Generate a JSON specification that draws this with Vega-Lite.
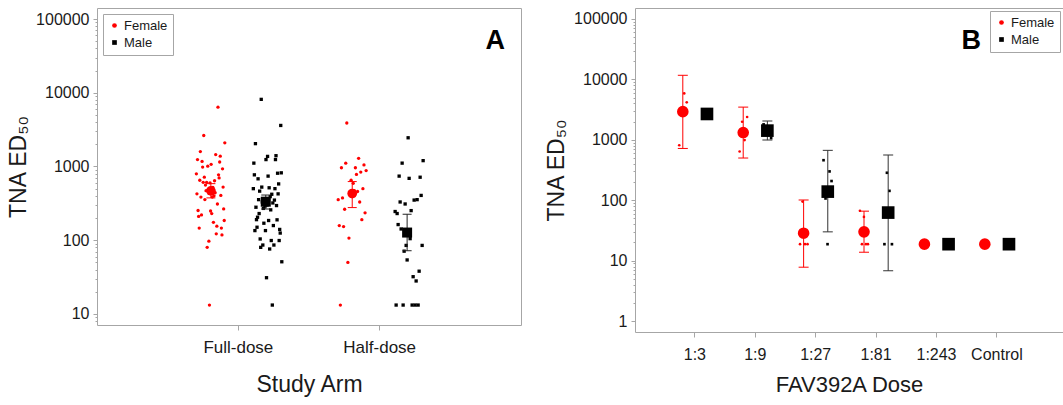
{
"$schema": "https://vega.github.io/schema/vega-lite/v6.json",
"padding": {"left": 7, "top": 7, "right": 0, "bottom": 0},
"spacing": 23,
"datasets": {
"a_raw": [
{"arm":"Full-dose","sex":"Female","id":1,"value":795},{"arm":"Full-dose","sex":"Female","id":2,"value":425},{"arm":"Full-dose","sex":"Female","id":3,"value":1240},{"arm":"Full-dose","sex":"Female","id":4,"value":253},{"arm":"Full-dose","sex":"Female","id":5,"value":210},
{"arm":"Full-dose","sex":"Female","id":6,"value":146},{"arm":"Full-dose","sex":"Female","id":7,"value":650},{"arm":"Full-dose","sex":"Female","id":8,"value":1590},{"arm":"Full-dose","sex":"Female","id":9,"value":385},{"arm":"Full-dose","sex":"Female","id":10,"value":220},
{"arm":"Full-dose","sex":"Female","id":11,"value":1170},{"arm":"Full-dose","sex":"Female","id":12,"value":980},{"arm":"Full-dose","sex":"Female","id":13,"value":610},{"arm":"Full-dose","sex":"Female","id":14,"value":2630},{"arm":"Full-dose","sex":"Female","id":15,"value":716},
{"arm":"Full-dose","sex":"Female","id":16,"value":356},{"arm":"Full-dose","sex":"Female","id":17,"value":560},{"arm":"Full-dose","sex":"Female","id":18,"value":470},{"arm":"Full-dose","sex":"Female","id":19,"value":610},{"arm":"Full-dose","sex":"Female","id":20,"value":80},
{"arm":"Full-dose","sex":"Female","id":21,"value":1010},{"arm":"Full-dose","sex":"Female","id":22,"value":480},{"arm":"Full-dose","sex":"Female","id":23,"value":97},{"arm":"Full-dose","sex":"Female","id":24,"value":13.2},{"arm":"Full-dose","sex":"Female","id":25,"value":600},
{"arm":"Full-dose","sex":"Female","id":26,"value":249},{"arm":"Full-dose","sex":"Female","id":27,"value":1070},{"arm":"Full-dose","sex":"Female","id":28,"value":230},{"arm":"Full-dose","sex":"Female","id":29,"value":385},{"arm":"Full-dose","sex":"Female","id":30,"value":520},
{"arm":"Full-dose","sex":"Female","id":31,"value":175},{"arm":"Full-dose","sex":"Female","id":32,"value":400},{"arm":"Full-dose","sex":"Female","id":33,"value":640},{"arm":"Full-dose","sex":"Female","id":34,"value":440},{"arm":"Full-dose","sex":"Female","id":35,"value":1450},
{"arm":"Full-dose","sex":"Female","id":36,"value":122},{"arm":"Full-dose","sex":"Female","id":37,"value":155},{"arm":"Full-dose","sex":"Female","id":38,"value":310},{"arm":"Full-dose","sex":"Female","id":39,"value":6380},{"arm":"Full-dose","sex":"Female","id":40,"value":770},
{"arm":"Full-dose","sex":"Female","id":41,"value":700},{"arm":"Full-dose","sex":"Female","id":42,"value":1150},{"arm":"Full-dose","sex":"Female","id":43,"value":1380},{"arm":"Full-dose","sex":"Female","id":44,"value":405},{"arm":"Full-dose","sex":"Female","id":45,"value":146},
{"arm":"Full-dose","sex":"Female","id":46,"value":118},{"arm":"Full-dose","sex":"Female","id":47,"value":930},{"arm":"Full-dose","sex":"Female","id":48,"value":525},{"arm":"Full-dose","sex":"Female","id":49,"value":266},{"arm":"Full-dose","sex":"Female","id":50,"value":185},
{"arm":"Full-dose","sex":"Female","id":51,"value":2090},
{"arm":"Full-dose","sex":"Male","id":1,"value":500},{"arm":"Full-dose","sex":"Male","id":2,"value":1110},{"arm":"Full-dose","sex":"Male","id":3,"value":770},{"arm":"Full-dose","sex":"Male","id":4,"value":135},{"arm":"Full-dose","sex":"Male","id":5,"value":2040},
{"arm":"Full-dose","sex":"Male","id":6,"value":280},{"arm":"Full-dose","sex":"Male","id":7,"value":190},{"arm":"Full-dose","sex":"Male","id":8,"value":150},{"arm":"Full-dose","sex":"Male","id":9,"value":205},{"arm":"Full-dose","sex":"Male","id":10,"value":680},
{"arm":"Full-dose","sex":"Male","id":11,"value":355},{"arm":"Full-dose","sex":"Male","id":12,"value":230},{"arm":"Full-dose","sex":"Male","id":13,"value":463},{"arm":"Full-dose","sex":"Male","id":14,"value":104},{"arm":"Full-dose","sex":"Male","id":15,"value":80},
{"arm":"Full-dose","sex":"Male","id":16,"value":8130},{"arm":"Full-dose","sex":"Male","id":17,"value":525},{"arm":"Full-dose","sex":"Male","id":18,"value":330},{"arm":"Full-dose","sex":"Male","id":19,"value":86},{"arm":"Full-dose","sex":"Male","id":20,"value":270},
{"arm":"Full-dose","sex":"Male","id":21,"value":170},{"arm":"Full-dose","sex":"Male","id":22,"value":360},{"arm":"Full-dose","sex":"Male","id":23,"value":290},{"arm":"Full-dose","sex":"Male","id":24,"value":135},{"arm":"Full-dose","sex":"Male","id":25,"value":1240},
{"arm":"Full-dose","sex":"Male","id":26,"value":31},{"arm":"Full-dose","sex":"Male","id":27,"value":300},{"arm":"Full-dose","sex":"Male","id":28,"value":1370},{"arm":"Full-dose","sex":"Male","id":29,"value":740},{"arm":"Full-dose","sex":"Male","id":30,"value":185},
{"arm":"Full-dose","sex":"Male","id":31,"value":514},{"arm":"Full-dose","sex":"Male","id":32,"value":76},{"arm":"Full-dose","sex":"Male","id":33,"value":390},{"arm":"Full-dose","sex":"Male","id":34,"value":258},{"arm":"Full-dose","sex":"Male","id":35,"value":99},
{"arm":"Full-dose","sex":"Male","id":36,"value":420},{"arm":"Full-dose","sex":"Male","id":37,"value":13.2},{"arm":"Full-dose","sex":"Male","id":38,"value":320},{"arm":"Full-dose","sex":"Male","id":39,"value":158},{"arm":"Full-dose","sex":"Male","id":40,"value":86},
{"arm":"Full-dose","sex":"Male","id":41,"value":350},{"arm":"Full-dose","sex":"Male","id":42,"value":500},{"arm":"Full-dose","sex":"Male","id":43,"value":1240},{"arm":"Full-dose","sex":"Male","id":44,"value":1400},{"arm":"Full-dose","sex":"Male","id":45,"value":295},
{"arm":"Full-dose","sex":"Male","id":46,"value":189},{"arm":"Full-dose","sex":"Male","id":47,"value":810},{"arm":"Full-dose","sex":"Male","id":48,"value":425},{"arm":"Full-dose","sex":"Male","id":49,"value":580},{"arm":"Full-dose","sex":"Male","id":50,"value":99},
{"arm":"Full-dose","sex":"Male","id":51,"value":140},{"arm":"Full-dose","sex":"Male","id":52,"value":125},{"arm":"Full-dose","sex":"Male","id":53,"value":3600},{"arm":"Full-dose","sex":"Male","id":54,"value":820},{"arm":"Full-dose","sex":"Male","id":55,"value":51},
{"arm":"Half-dose","sex":"Female","id":1,"value":355},{"arm":"Half-dose","sex":"Female","id":2,"value":158},{"arm":"Half-dose","sex":"Female","id":3,"value":13.2},{"arm":"Half-dose","sex":"Female","id":4,"value":960},{"arm":"Half-dose","sex":"Female","id":5,"value":375},
{"arm":"Half-dose","sex":"Female","id":6,"value":153},{"arm":"Half-dose","sex":"Female","id":7,"value":263},{"arm":"Half-dose","sex":"Female","id":8,"value":1110},{"arm":"Half-dose","sex":"Female","id":9,"value":3890},{"arm":"Half-dose","sex":"Female","id":10,"value":50},
{"arm":"Half-dose","sex":"Female","id":11,"value":107},{"arm":"Half-dose","sex":"Female","id":12,"value":420},{"arm":"Half-dose","sex":"Female","id":13,"value":650},{"arm":"Half-dose","sex":"Female","id":14,"value":390},{"arm":"Half-dose","sex":"Female","id":15,"value":590},
{"arm":"Half-dose","sex":"Female","id":16,"value":470},{"arm":"Half-dose","sex":"Female","id":17,"value":960},{"arm":"Half-dose","sex":"Female","id":18,"value":780},{"arm":"Half-dose","sex":"Female","id":19,"value":458},{"arm":"Half-dose","sex":"Female","id":20,"value":1290},
{"arm":"Half-dose","sex":"Female","id":21,"value":330},{"arm":"Half-dose","sex":"Female","id":22,"value":840},{"arm":"Half-dose","sex":"Female","id":23,"value":190},{"arm":"Half-dose","sex":"Female","id":24,"value":500},{"arm":"Half-dose","sex":"Female","id":25,"value":1050},
{"arm":"Half-dose","sex":"Female","id":26,"value":235},{"arm":"Half-dose","sex":"Female","id":27,"value":880},
{"arm":"Half-dose","sex":"Male","id":1,"value":245},{"arm":"Half-dose","sex":"Male","id":2,"value":13.2},{"arm":"Half-dose","sex":"Male","id":3,"value":230},{"arm":"Half-dose","sex":"Male","id":4,"value":163},{"arm":"Half-dose","sex":"Male","id":5,"value":740},
{"arm":"Half-dose","sex":"Male","id":6,"value":330},{"arm":"Half-dose","sex":"Male","id":7,"value":142},{"arm":"Half-dose","sex":"Male","id":8,"value":1110},{"arm":"Half-dose","sex":"Male","id":9,"value":13.2},{"arm":"Half-dose","sex":"Male","id":10,"value":71},
{"arm":"Half-dose","sex":"Male","id":11,"value":310},{"arm":"Half-dose","sex":"Male","id":12,"value":85},{"arm":"Half-dose","sex":"Male","id":13,"value":54},{"arm":"Half-dose","sex":"Male","id":14,"value":2450},{"arm":"Half-dose","sex":"Male","id":15,"value":690},
{"arm":"Half-dose","sex":"Male","id":16,"value":105},{"arm":"Half-dose","sex":"Male","id":17,"value":252},{"arm":"Half-dose","sex":"Male","id":18,"value":13.2},{"arm":"Half-dose","sex":"Male","id":19,"value":32},{"arm":"Half-dose","sex":"Male","id":20,"value":350},
{"arm":"Half-dose","sex":"Male","id":21,"value":13.2},{"arm":"Half-dose","sex":"Male","id":22,"value":28},{"arm":"Half-dose","sex":"Male","id":23,"value":355},{"arm":"Half-dose","sex":"Male","id":24,"value":13.2},{"arm":"Half-dose","sex":"Male","id":25,"value":38},
{"arm":"Half-dose","sex":"Male","id":26,"value":715},{"arm":"Half-dose","sex":"Male","id":27,"value":405},{"arm":"Half-dose","sex":"Male","id":28,"value":85},{"arm":"Half-dose","sex":"Male","id":29,"value":1200}
],
"a_sum": [
{"arm":"Full-dose","sex":"Female","gm":467,"lo":375,"hi":585},
{"arm":"Full-dose","sex":"Male","gm":333,"lo":265,"hi":410},
{"arm":"Half-dose","sex":"Female","gm":430,"lo":277,"hi":624},
{"arm":"Half-dose","sex":"Male","gm":127,"lo":72,"hi":225}
],
"b_raw": [
{"dose":"1:3","sex":"Female","id":1,"value":815},{"dose":"1:3","sex":"Female","id":2,"value":2900},{"dose":"1:3","sex":"Female","id":3,"value":5870},{"dose":"1:3","sex":"Female","id":4,"value":4170},
{"dose":"1:3","sex":"Male","id":1,"value":2300},{"dose":"1:3","sex":"Male","id":2,"value":2900},{"dose":"1:3","sex":"Male","id":3,"value":2600},
{"dose":"1:9","sex":"Female","id":1,"value":640},{"dose":"1:9","sex":"Female","id":2,"value":1990},{"dose":"1:9","sex":"Female","id":3,"value":990},{"dose":"1:9","sex":"Female","id":4,"value":2390},
{"dose":"1:9","sex":"Male","id":1,"value":1800},{"dose":"1:9","sex":"Male","id":2,"value":1300},{"dose":"1:9","sex":"Male","id":3,"value":1500},{"dose":"1:9","sex":"Male","id":4,"value":1070},
{"dose":"1:27","sex":"Female","id":1,"value":18.75},{"dose":"1:27","sex":"Female","id":2,"value":95},{"dose":"1:27","sex":"Female","id":3,"value":18.75},{"dose":"1:27","sex":"Female","id":4,"value":18.75},
{"dose":"1:27","sex":"Male","id":1,"value":460},{"dose":"1:27","sex":"Male","id":2,"value":107},{"dose":"1:27","sex":"Male","id":3,"value":18.75},{"dose":"1:27","sex":"Male","id":4,"value":300},{"dose":"1:27","sex":"Male","id":5,"value":208},
{"dose":"1:81","sex":"Female","id":1,"value":67},{"dose":"1:81","sex":"Female","id":2,"value":18.75},{"dose":"1:81","sex":"Female","id":3,"value":53},{"dose":"1:81","sex":"Female","id":4,"value":18.75},{"dose":"1:81","sex":"Female","id":5,"value":18.75},
{"dose":"1:81","sex":"Male","id":1,"value":18.75},{"dose":"1:81","sex":"Male","id":2,"value":285},{"dose":"1:81","sex":"Male","id":3,"value":143},{"dose":"1:81","sex":"Male","id":4,"value":18.75},
{"dose":"1:243","sex":"Female","id":1,"value":18.75},{"dose":"1:243","sex":"Female","id":2,"value":18.75},{"dose":"1:243","sex":"Female","id":3,"value":18.75},
{"dose":"1:243","sex":"Male","id":1,"value":18.75},{"dose":"1:243","sex":"Male","id":2,"value":18.75},{"dose":"1:243","sex":"Male","id":3,"value":18.75},
{"dose":"Control","sex":"Female","id":1,"value":18.75},{"dose":"Control","sex":"Female","id":2,"value":18.75},{"dose":"Control","sex":"Female","id":3,"value":18.75},
{"dose":"Control","sex":"Male","id":1,"value":18.75},{"dose":"Control","sex":"Male","id":2,"value":18.75},{"dose":"Control","sex":"Male","id":3,"value":18.75}
],
"b_sum": [
{"dose":"1:3","sex":"Female","gm":2925,"lo":720,"hi":11700},
{"dose":"1:3","sex":"Male","gm":2680,"lo":2450,"hi":2900},
{"dose":"1:9","sex":"Female","gm":1320,"lo":500,"hi":3480},
{"dose":"1:9","sex":"Male","gm":1420,"lo":990,"hi":2040},
{"dose":"1:27","sex":"Female","gm":28.5,"lo":7.8,"hi":101},
{"dose":"1:27","sex":"Male","gm":139,"lo":30,"hi":670},
{"dose":"1:81","sex":"Female","gm":30,"lo":13.8,"hi":66},
{"dose":"1:81","sex":"Male","gm":62.5,"lo":6.8,"hi":560},
{"dose":"1:243","sex":"Female","gm":18.75,"lo":null,"hi":null},
{"dose":"1:243","sex":"Male","gm":18.75,"lo":null,"hi":null},
{"dose":"Control","sex":"Female","gm":18.75,"lo":null,"hi":null},
{"dose":"Control","sex":"Male","gm":18.75,"lo":null,"hi":null}
]
},
"hconcat": [
{
"width": 424, "height": 317,
"title": {"text": "A", "anchor": "end", "frame": "group", "fontSize": 27, "fontWeight": "bold", "color": "#000000", "baseline": "alphabetic", "dx": -16, "dy": 68, "offset": 0},
"layer": [
{
"data": {"name": "a_raw"},
"transform": [{"filter": "datum.sex == 'Female'"}, {"window": [{"op": "cume_dist", "as": "pos"}], "sort": [{"field": "id", "order": "ascending"}], "groupby": ["arm"]}],
"mark": {"type": "point", "filled": true, "size": 11, "opacity": 1},
"encoding": {
"x": {"field": "arm", "type": "nominal", "scale": {"type": "band", "domain": ["Full-dose", "Half-dose"], "paddingInner": 0.2, "paddingOuter": 0.6}, "axis": {"title": "Study Arm", "labelAngle": 0, "labelFontSize": 17, "titleFontSize": 23, "tickSize": 5, "labelPadding": 9, "titlePadding": 18}},
"xOffset": {"field": "pos", "type": "quantitative", "scale": {"domain": [0, 1], "range": [14, 43]}},
"y": {"field": "value", "type": "quantitative", "scale": {"type": "log", "domain": [7.08, 141000], "nice": false}, "axis": {"title": "TNA ED₅₀", "values": [8,9,10,20,30,40,50,60,70,80,90,100,200,300,400,500,600,700,800,900,1000,2000,3000,4000,5000,6000,7000,8000,9000,10000,20000,30000,40000,50000,60000,70000,80000,90000,100000], "format": "d", "labelExpr": "indexof([1,10,100,1000,10000,100000], datum.value) >= 0 ? datum.label : ''", "tickSize": {"condition": {"test": "indexof([1,10,100,1000,10000,100000], datum.value) >= 0", "value": 4}, "value": 2}, "labelFontSize": 16, "titleFontSize": 23, "labelPadding": 4, "titlePadding": 5, "labelOverlap": false, "labelBound": false}},
"color": {"field": "sex", "type": "nominal", "scale": {"domain": ["Female", "Male"], "range": ["#ff0000", "#000000"]}, "legend": {"orient": "top-left", "title": null, "offset": 6}},
"shape": {"field": "sex", "type": "nominal", "scale": {"domain": ["Female", "Male"], "range": ["circle", "square"]}, "legend": {"orient": "top-left", "title": null, "offset": 6}}
}
},
{
"data": {"name": "a_raw"},
"transform": [{"filter": "datum.sex == 'Male'"}, {"window": [{"op": "cume_dist", "as": "pos"}], "sort": [{"field": "id", "order": "ascending"}], "groupby": ["arm"]}],
"mark": {"type": "point", "filled": true, "size": 11, "opacity": 1},
"encoding": {
"x": {"field": "arm", "type": "nominal"},
"xOffset": {"field": "pos", "type": "quantitative", "scale": {"domain": [0, 1], "range": [71, 100]}},
"y": {"field": "value", "type": "quantitative", "title": "TNA ED₅₀"},
"color": {"field": "sex", "type": "nominal", "scale": {"domain": ["Female", "Male"], "range": ["#ff0000", "#000000"]}, "legend": {"orient": "top-left", "title": null, "offset": 6}},
"shape": {"field": "sex", "type": "nominal", "scale": {"domain": ["Female", "Male"], "range": ["circle", "square"]}, "legend": {"orient": "top-left", "title": null, "offset": 6}}
}
},
{
"data": {"name": "a_sum"},
"mark": {"type": "rule", "strokeWidth": 1},
"encoding": {
"x": {"field": "arm", "type": "nominal"},
"xOffset": {"field": "sex", "type": "nominal", "scale": {"type": "band", "domain": ["Female", "Male"], "paddingInner": 0, "paddingOuter": 0.03}},
"y": {"field": "lo", "type": "quantitative", "title": "TNA ED₅₀"},
"y2": {"field": "hi"},
"color": {"condition": {"test": "datum.sex == 'Female'", "value": "#ff0000"}, "value": "#222222"}
}
},
{
"data": {"name": "a_sum"},
"mark": {"type": "tick", "size": 9, "thickness": 1, "opacity": 1},
"encoding": {
"x": {"field": "arm", "type": "nominal"},
"xOffset": {"field": "sex", "type": "nominal", "scale": {"type": "band", "domain": ["Female", "Male"], "paddingInner": 0, "paddingOuter": 0.03}},
"y": {"field": "lo", "type": "quantitative", "title": "TNA ED₅₀"},
"color": {"condition": {"test": "datum.sex == 'Female'", "value": "#ff0000"}, "value": "#222222"}
}
},
{
"data": {"name": "a_sum"},
"mark": {"type": "tick", "size": 9, "thickness": 1, "opacity": 1},
"encoding": {
"x": {"field": "arm", "type": "nominal"},
"xOffset": {"field": "sex", "type": "nominal", "scale": {"type": "band", "domain": ["Female", "Male"], "paddingInner": 0, "paddingOuter": 0.03}},
"y": {"field": "hi", "type": "quantitative", "title": "TNA ED₅₀"},
"color": {"condition": {"test": "datum.sex == 'Female'", "value": "#ff0000"}, "value": "#222222"}
}
},
{
"data": {"name": "a_sum"},
"mark": {"type": "point", "filled": true, "opacity": 1},
"encoding": {
"x": {"field": "arm", "type": "nominal"},
"xOffset": {"field": "sex", "type": "nominal", "scale": {"type": "band", "domain": ["Female", "Male"], "paddingInner": 0, "paddingOuter": 0.03}},
"y": {"field": "gm", "type": "quantitative", "title": "TNA ED₅₀"},
"color": {"condition": {"test": "datum.sex == 'Female'", "value": "#ff0000"}, "value": "#000000"},
"shape": {"condition": {"test": "datum.sex == 'Female'", "value": "circle"}, "value": "square"},
"size": {"condition": {"test": "datum.sex == 'Female'", "value": 95}, "value": 100}
}
}
],
"resolve": {"scale": {"xOffset": "independent"}}
},
{
"width": 428, "height": 324,
"title": {"text": "B", "anchor": "end", "frame": "group", "fontSize": 27, "fontWeight": "bold", "color": "#000000", "baseline": "alphabetic", "dx": -82, "dy": 68, "offset": 0},
"layer": [
{
"data": {"name": "b_raw"},
"transform": [{"filter": "datum.sex == 'Female'"}, {"window": [{"op": "cume_dist", "as": "pos"}], "sort": [{"field": "id", "order": "ascending"}], "groupby": ["dose"]}],
"mark": {"type": "point", "filled": true, "size": 7, "opacity": 1},
"encoding": {
"x": {"field": "dose", "type": "nominal", "scale": {"type": "band", "domain": ["1:3", "1:9", "1:27", "1:81", "1:243", "Control"], "paddingInner": 0.2, "paddingOuter": 0.643, "align": 0.46}, "axis": {"title": "FAV392A Dose", "labelAngle": 0, "labelFontSize": 16, "titleFontSize": 22, "tickSize": 5, "labelPadding": 9, "titlePadding": 12}},
"xOffset": {"field": "pos", "type": "quantitative", "scale": {"domain": [0, 1], "range": [6, 16]}},
"y": {"field": "value", "type": "quantitative", "scale": {"type": "log", "domain": [0.66, 152000], "nice": false}, "axis": {"title": "TNA ED₅₀", "values": [1,2,3,4,5,6,7,8,9,10,20,30,40,50,60,70,80,90,100,200,300,400,500,600,700,800,900,1000,2000,3000,4000,5000,6000,7000,8000,9000,10000,20000,30000,40000,50000,60000,70000,80000,90000,100000], "format": "d", "labelExpr": "indexof([1,10,100,1000,10000,100000], datum.value) >= 0 ? datum.label : ''", "tickSize": {"condition": {"test": "indexof([1,10,100,1000,10000,100000], datum.value) >= 0", "value": 4}, "value": 2}, "labelFontSize": 16, "titleFontSize": 23, "labelPadding": 4, "titlePadding": 5, "labelOverlap": false, "labelBound": false}},
"color": {"field": "sex", "type": "nominal", "scale": {"domain": ["Female", "Male"], "range": ["#ff0000", "#000000"]}, "legend": {"orient": "top-right", "title": null, "offset": 3}},
"shape": {"field": "sex", "type": "nominal", "scale": {"domain": ["Female", "Male"], "range": ["circle", "square"]}, "legend": {"orient": "top-right", "title": null, "offset": 3}}
}
},
{
"data": {"name": "b_raw"},
"transform": [{"filter": "datum.sex == 'Male'"}, {"window": [{"op": "cume_dist", "as": "pos"}], "sort": [{"field": "id", "order": "ascending"}], "groupby": ["dose"]}],
"mark": {"type": "point", "filled": true, "size": 7, "opacity": 1},
"encoding": {
"x": {"field": "dose", "type": "nominal"},
"xOffset": {"field": "pos", "type": "quantitative", "scale": {"domain": [0, 1], "range": [30, 40]}},
"y": {"field": "value", "type": "quantitative", "title": "TNA ED₅₀"},
"color": {"field": "sex", "type": "nominal", "scale": {"domain": ["Female", "Male"], "range": ["#ff0000", "#000000"]}, "legend": {"orient": "top-right", "title": null, "offset": 3}},
"shape": {"field": "sex", "type": "nominal", "scale": {"domain": ["Female", "Male"], "range": ["circle", "square"]}, "legend": {"orient": "top-right", "title": null, "offset": 3}}
}
},
{
"data": {"name": "b_sum"},
"transform": [{"filter": "isValid(datum.lo)"}],
"mark": {"type": "rule", "strokeWidth": 1},
"encoding": {
"x": {"field": "dose", "type": "nominal"},
"xOffset": {"field": "sex", "type": "nominal", "scale": {"type": "band", "domain": ["Female", "Male"], "paddingInner": 0, "paddingOuter": 0}},
"y": {"field": "lo", "type": "quantitative", "title": "TNA ED₅₀"},
"y2": {"field": "hi"},
"color": {"condition": {"test": "datum.sex == 'Female'", "value": "#ff0000"}, "value": "#333333"}
}
},
{
"data": {"name": "b_sum"},
"transform": [{"filter": "isValid(datum.lo)"}],
"mark": {"type": "tick", "size": 10, "thickness": 1, "opacity": 1},
"encoding": {
"x": {"field": "dose", "type": "nominal"},
"xOffset": {"field": "sex", "type": "nominal", "scale": {"type": "band", "domain": ["Female", "Male"], "paddingInner": 0, "paddingOuter": 0}},
"y": {"field": "lo", "type": "quantitative", "title": "TNA ED₅₀"},
"color": {"condition": {"test": "datum.sex == 'Female'", "value": "#ff0000"}, "value": "#333333"}
}
},
{
"data": {"name": "b_sum"},
"transform": [{"filter": "isValid(datum.hi)"}],
"mark": {"type": "tick", "size": 10, "thickness": 1, "opacity": 1},
"encoding": {
"x": {"field": "dose", "type": "nominal"},
"xOffset": {"field": "sex", "type": "nominal", "scale": {"type": "band", "domain": ["Female", "Male"], "paddingInner": 0, "paddingOuter": 0}},
"y": {"field": "hi", "type": "quantitative", "title": "TNA ED₅₀"},
"color": {"condition": {"test": "datum.sex == 'Female'", "value": "#ff0000"}, "value": "#333333"}
}
},
{
"data": {"name": "b_sum"},
"mark": {"type": "point", "filled": true, "opacity": 1},
"encoding": {
"x": {"field": "dose", "type": "nominal"},
"xOffset": {"field": "sex", "type": "nominal", "scale": {"type": "band", "domain": ["Female", "Male"], "paddingInner": 0, "paddingOuter": 0}},
"y": {"field": "gm", "type": "quantitative", "title": "TNA ED₅₀"},
"color": {"condition": {"test": "datum.sex == 'Female'", "value": "#ff0000"}, "value": "#000000"},
"shape": {"condition": {"test": "datum.sex == 'Female'", "value": "circle"}, "value": "square"},
"size": {"condition": {"test": "datum.sex == 'Female'", "value": 135}, "value": 160}
}
}
],
"resolve": {"scale": {"xOffset": "independent"}}
}
],
"resolve": {"scale": {"color": "independent", "shape": "independent"}, "legend": {"color": "independent", "shape": "independent"}},
"config": {
"font": "Liberation Sans",
"background": "#ffffff",
"view": {"stroke": "#a6a6a6", "strokeWidth": 1},
"axis": {"domain": false, "grid": false, "tickColor": "#a6a6a6", "labelColor": "#1a1a1a", "titleColor": "#1a1a1a", "titleFontWeight": "normal"},
"legend": {"padding": 5, "strokeColor": "#a6a6a6", "fillColor": "#ffffff", "labelFontSize": 13, "labelColor": "#1a1a1a", "symbolSize": 22, "rowPadding": 3, "labelOffset": 3, "symbolStrokeWidth": 0}
}
}
